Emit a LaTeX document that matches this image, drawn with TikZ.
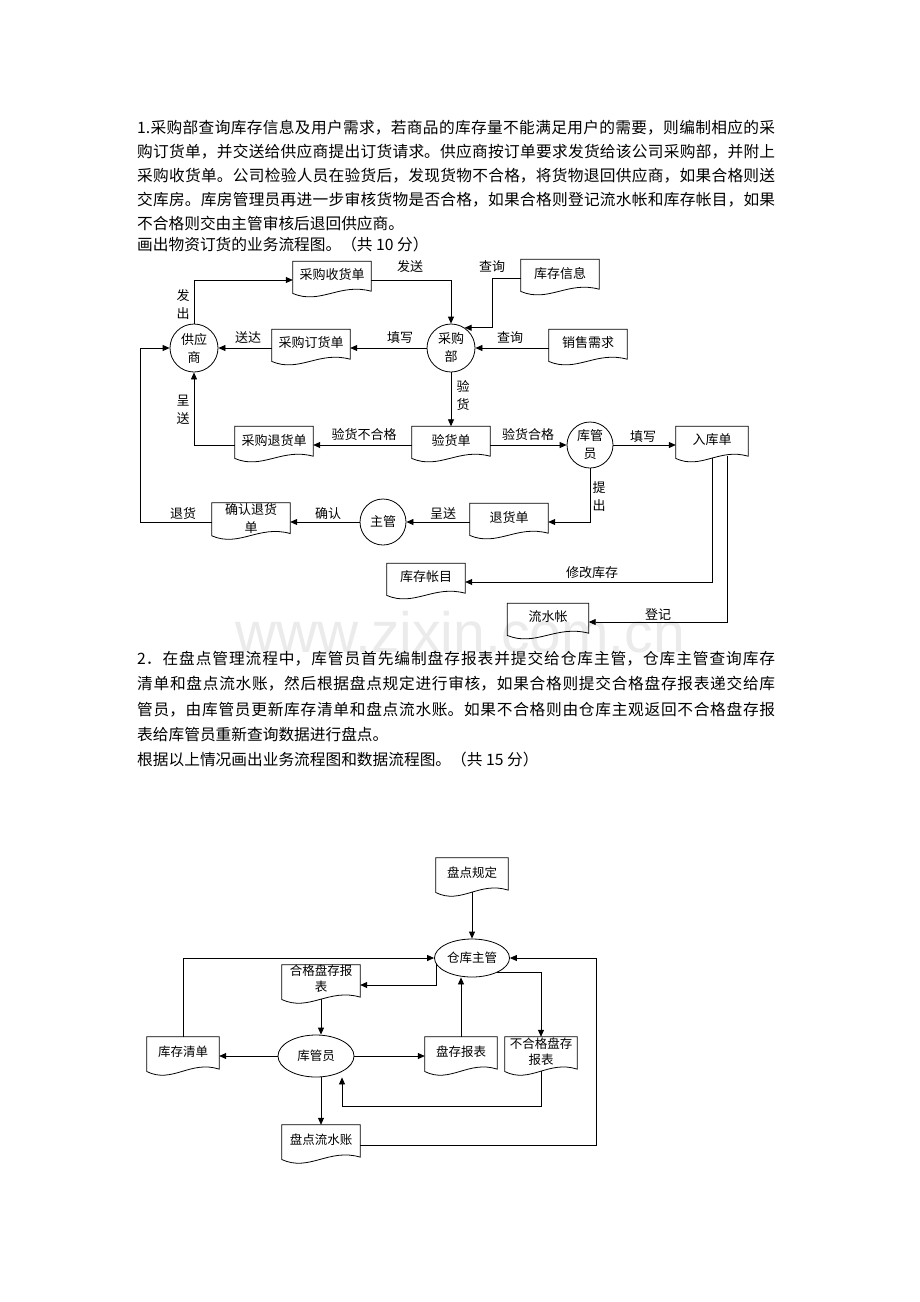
\documentclass[tikz,border=0pt]{standalone}
\usepackage{fontspec}
\setmainfont{Noto Sans CJK SC}
\newfontfamily\wmfont{Liberation Sans}
\usetikzlibrary{arrows.meta,calc,shapes.geometric}

\XeTeXlinebreaklocale "zh"
\XeTeXlinebreakskip=0pt plus 1pt

\newcommand{\bodyfont}{\fontsize{15.7pt}{24pt}\selectfont}
\newcommand{\bodyfontb}{\fontsize{15.7pt}{25.3pt}\selectfont}
\newcommand{\flowfont}{\fontsize{13pt}{18pt}\selectfont}
\newcommand{\dfdfont}{\fontsize{12.5pt}{16pt}\selectfont}

\tikzset{
  flowline/.style={line width=0.8pt},
  arr/.style={flowline, -{Triangle[length=7pt,width=6pt]}},
  docbox/.style={minimum width=78pt, minimum height=37pt, inner sep=0pt, align=center, text depth=11pt, font=\flowfont},
  dfddoc/.style={docbox, minimum width=72pt, minimum height=40pt, font=\dfdfont},
  circ/.style={draw, flowline, circle, minimum size=48pt, inner sep=0pt, align=center, font=\flowfont},
  oval/.style={draw, flowline, ellipse, minimum width=75pt, minimum height=38pt, inner sep=0pt, font=\dfdfont},
  lbl/.style={font=\flowfont, inner sep=0pt, align=center}
}

% outline of a document symbol, fitted to its node
\newcommand{\docshape}[1]{%
  \draw[flowline, x={($(#1.north east)-(#1.north west)$)}, y={($(#1.south west)-(#1.north west)$)}, shift={(#1.north west)}]
    (0,0) -- (1,0) -- (1,0.8) .. controls (0.6,0.57) and (0.35,1.17) .. (0,0.86) -- cycle;}

% document node: [options]{name}{x,y}{text}
\newcommand{\docnode}[4][]{%
  \node[docbox,#1] (#2) at (#3) {#4};
  \docshape{#2}}

\begin{document}
\begin{tikzpicture}[x=1pt, y=-1pt]
    \useasboundingbox (0,0) rectangle (920,1302);
    \fill[white] (0,0) rectangle (920,1302);

    % Watermark
    \node[font={\wmfont\fontsize{57pt}{57pt}\selectfont}, text=black!8] (wm) at (460,632) {www.zixin.com.cn};

    % Question 1
    \node[anchor=north west, inner sep=0pt, text width=638pt, align=justify, font=\bodyfont] (q1) at (137,120) {1.采购部查询库存信息及用户需求，若商品的库存量不能满足用户的需要，则编制相应的采\linebreak 购订货单，并交送给供应商提出订货请求。供应商按订单要求发货给该公司采购部，并附上\linebreak 采购收货单。公司检验人员在验货后，发现货物不合格，将货物退回供应商，如果合格则送\linebreak 交库房。库房管理员再进一步审核货物是否合格，如果合格则登记流水帐和库存帐目，如果\linebreak 不合格则交由主管审核后退回供应商。};
    \node[anchor=west, inner sep=0pt, font=\bodyfont] (q1task) at (137,245) {画出物资订货的业务流程图。（共 10 分）};

    % Nodes
    \node[circ] (gys) at (194,348) {供应\\商};
    \node[circ] (cgb) at (451,348) {采购\\部};
    \node[circ, minimum size=46pt] (kgy) at (590,445) {库管\\员};
    \node[circ, minimum size=46pt] (zg) at (383,522) {主管};

    \docnode{shd}{332,280}{采购收货单};
    \docnode{kcxx}{560,278}{库存信息};
    \docnode{dhd}{311,348}{采购订货单};
    \docnode{xsxq}{588,348}{销售需求};
    \docnode{yhd}{451,445}{验货单};
    \docnode{cthd}{274,445}{采购退货单};
    \docnode[minimum width=72pt]{rkd}{712,445}{入库单};
    \docnode{thd}{509,522}{退货单};
    \docnode[text depth=9pt]{qrthd}{251,522}{确认退货\\单};
    \docnode{kczm}{426,582}{库存帐目};
    \docnode[minimum width=81pt]{lsz}{548,622}{流水帐};

    % Arrows
    \coordinate (qbend) at (492,0);
    \coordinate (rbend) at (140,0);
    \draw[arr] (gys.north) |- (shd.west);
    \draw[arr] (shd.east) -| (cgb.north);
    \draw[arr] (kcxx.west) -| (qbend |- cgb.56) -- (cgb.56);
    \draw[arr] (xsxq.west) -- (cgb.east);
    \draw[arr] (cgb.west) -- (dhd.east);
    \draw[arr] (dhd.west) -- (gys.east);
    \draw[arr] (cgb.south) -- (yhd.north);
    \draw[arr] (yhd.west) -- (cthd.east);
    \draw[arr] (cthd.west) -| (gys.south);
    \draw[arr] (yhd.east) -- (kgy.west);
    \draw[arr] (kgy.east) -- (rkd.west);
    \draw[arr] (kgy.south) |- (thd.east);
    \draw[arr] (thd.west) -- (zg.east);
    \draw[arr] (zg.west) -- (qrthd.east);
    \draw[arr] (qrthd.west) -| (rbend |- gys.west) -- (gys.west);
    \draw[arr] ([yshift=6pt]rkd.south) |- (kczm.east);
    \draw[arr] ([xshift=15pt,yshift=8pt]rkd.south) |- (lsz.east);

    % Labels
    \node[lbl] (lfc) at (183,305) {发\\出};
    \node[lbl] (lfs) at (410,267) {发送};
    \node[lbl] (lcx1) at (492,267) {查询};
    \node[lbl] (lsd) at (248,338) {送达};
    \node[lbl] (ltx1) at (400,338) {填写};
    \node[lbl] (lcx2) at (510,338) {查询};
    \node[lbl] (lyh) at (463,396) {验\\货};
    \node[lbl] (lcs1) at (183,410) {呈\\送};
    \node[lbl] (lbhg) at (364,435) {验货不合格};
    \node[lbl] (lhg) at (528,435) {验货合格};
    \node[lbl] (ltx2) at (643,437) {填写};
    \node[lbl] (ltc) at (599,497) {提\\出};
    \node[lbl] (lcs2) at (443,514) {呈送};
    \node[lbl] (lqr) at (328,514) {确认};
    \node[lbl] (lth) at (183,514) {退货};
    \node[lbl] (lxg) at (592,573) {修改库存};
    \node[lbl] (ldj) at (658,614) {登记};

    % Question 2
    \node[anchor=north west, inner sep=0pt, text width=638pt, align=justify, font=\bodyfontb] (q2) at (137,651) {2．在盘点管理流程中，库管员首先编制盘存报表并提交给仓库主管，仓库主管查询库存\linebreak 清单和盘点流水账，然后根据盘点规定进行审核，如果合格则提交合格盘存报表递交给库\linebreak 管员，由库管员更新库存清单和盘点流水账。如果不合格则由仓库主观返回不合格盘存报\linebreak 表给库管员重新查询数据进行盘点。};
    \node[anchor=west, inner sep=0pt, font=\bodyfont] (q2task) at (137,760) {根据以上情况画出业务流程图和数据流程图。（共 15 分）};

    % Nodes
    \docnode[dfddoc]{pdgd}{472,878}{盘点规定};
    \node[oval] (ckzg) at (472,958) {仓库主管};
    \docnode[dfddoc, minimum width=78pt, text depth=13pt]{hgbb}{321,985}{合格盘存报\\表};
    \node[oval, minimum width=76pt, minimum height=42pt] (kgy2) at (316,1056) {库管员};
    \docnode[dfddoc]{kcqd}{183,1057}{库存清单};
    \docnode[dfddoc]{pcbb}{461,1057}{盘存报表};
    \docnode[dfddoc]{bhgbb}{541,1057}{不合格盘存\\报表};
    \docnode[dfddoc, minimum width=78pt]{pdlsz}{321,1145}{盘点流水账};

    % Arrows
    \coordinate (rb2) at (596,0);
    \coordinate (rt2) at (342,1106);
    \draw[arr] ([yshift=6pt]pdgd.south) -- (ckzg.north);
    \draw[arr] (kcqd.north) |- (ckzg.west);
    \draw[arr] (pdlsz.east) -| (rb2 |- ckzg.east) -- (ckzg.east);
    \draw[arr] (ckzg.190) |- (hgbb.east);
    \draw[arr] ([yshift=6pt]hgbb.south) -- (hgbb.south |- kgy2.north);
    \draw[arr] (pcbb.north) -- (pcbb.north |- ckzg.south);
    \draw[arr] (ckzg.-30) -| (bhgbb.north);
    \draw[arr] ([yshift=6pt]bhgbb.south) |- (rt2) -- (rt2 |- kgy2.south);
    \draw[arr] (kgy2.west) -- (kgy2.west -| kcqd.east);
    \draw[arr] (kgy2.east) -- (kgy2.east -| pcbb.west);
    \draw[arr] (pdlsz.north |- kgy2.south) -- (pdlsz.north);

\end{tikzpicture}
\end{document}
